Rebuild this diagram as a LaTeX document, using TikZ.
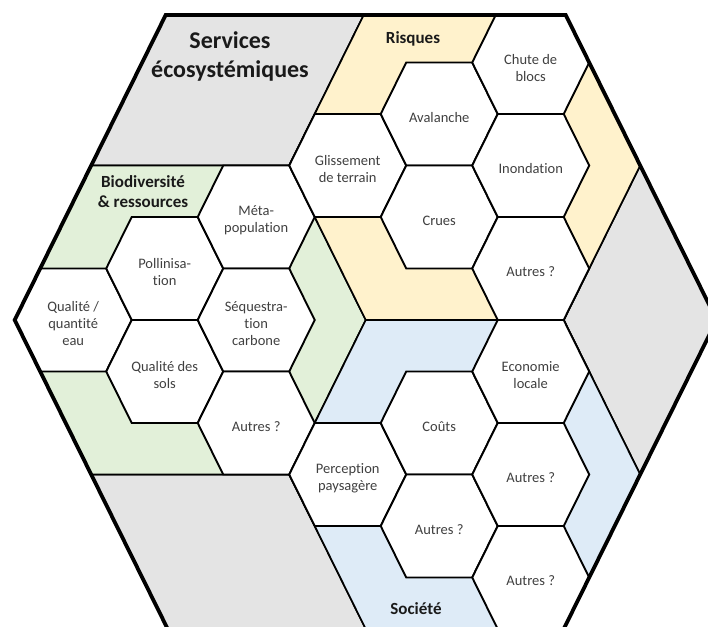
\documentclass[tikz,border=0pt]{standalone}
\usepackage{fontspec}
\setmainfont{Carlito}[RawFeature={-liga;-clig;-calt;-dlig}]
\definecolor{greyfill}{HTML}{E4E4E4}
\definecolor{yellowfill}{HTML}{FFF2CC}
\definecolor{greenfill}{HTML}{E2F0D9}
\definecolor{bluefill}{HTML}{DEEBF7}
\definecolor{txt}{HTML}{404040}
\definecolor{ttl}{HTML}{1A1A1A}
\begin{document}
\begin{tikzpicture}[x=1pt,y=-1pt,
  region/.style={draw=black,line width=1.7pt,line join=miter},
  hexline/.style={draw=black,fill=white,line width=1.9pt,line join=miter},
  hexlabel/.style={text=txt,align=center,font=\fontsize{14.5}{17}\selectfont,yshift=-3.5pt},
  grouptitle/.style={text=ttl,align=center,font=\bfseries\fontsize{17}{20}\selectfont},
  hexcell/.pic={\path[hexline] (-58.5,0) -- (-33,-51.5) -- (33,-51.5) -- (58.5,0) -- (33,51.5) -- (-33,51.5) -- cycle;}
]
\fill[white] (0,0) rectangle (708,626);
\useasboundingbox (0,0) rectangle (708,626);
\clip (0,0) rectangle (708,626);

% outer hexagon
\coordinate (L)  at (14.7,320);
\coordinate (TL) at (165.7,15);
\coordinate (TR) at (565.7,15);
\coordinate (R)  at (716.7,320);
\coordinate (BR) at (563.2,630);
\coordinate (BL) at (168.2,630);
% inner key points
\coordinate (C)  at (365.7,320);
\coordinate (Mt) at (363.7,15);
\coordinate (P1) at (289.2,165.5);
\coordinate (Q1) at (91.2,165.5);
\coordinate (P2) at (314.7,217);
\coordinate (P3) at (314.7,423);
\coordinate (P4) at (289.2,474.5);
\coordinate (Q4) at (91.2,474.5);
\coordinate (Rt) at (640.2,165.5);
\coordinate (Rb) at (640.2,474.5);
\coordinate (Rl) at (563.7,320);
\coordinate (Mb) at (366.2,630);

\begin{scope}
\clip (L) -- (TL) -- (TR) -- (R) -- (BR) -- (BL) -- cycle;
% grey rhombi
\path[region,fill=greyfill] (TL) -- (Mt) -- (P1) -- (Q1) -- cycle;
\path[region,fill=greyfill] (Rt) -- (R) -- (Rb) -- (Rl) -- cycle;
\path[region,fill=greyfill] (Q4) -- (P4) -- (Mb) -- (BL) -- cycle;
% coloured chevrons
\path[region,fill=greenfill] (Q1) -- (P1) -- (P2) -- (C) -- (P3) -- (P4) -- (Q4) -- (L) -- cycle;
\path[region,fill=yellowfill] (Mt) -- (TR) -- (Rt) -- (Rl) -- (C) -- (P2) -- (P1) -- cycle;
\path[region,fill=bluefill] (C) -- (Rl) -- (Rb) -- (BR) -- (Mb) -- (P4) -- (P3) -- cycle;

% hexagons
\pic (h01) at (73.2,320) {hexcell};
\pic (h11) at (164.7,268.5) {hexcell};
\pic (h12) at (164.7,371.5) {hexcell};
\pic (h21) at (256.2,217) {hexcell};
\pic (h22) at (256.2,320) {hexcell};
\pic (h23) at (256.2,423) {hexcell};
\pic (h31) at (347.7,165.5) {hexcell};
\pic (h32) at (347.7,474.5) {hexcell};
\pic (h41) at (439.2,114) {hexcell};
\pic (h42) at (439.2,217) {hexcell};
\pic (h43) at (439.2,423) {hexcell};
\pic (h44) at (439.2,526) {hexcell};
\pic (h51) at (530.7,62.5) {hexcell};
\pic (h52) at (530.7,165.5) {hexcell};
\pic (h53) at (530.7,268.5) {hexcell};
\pic (h54) at (530.7,371.5) {hexcell};
\pic (h55) at (530.7,474.5) {hexcell};
\pic (h56) at (530.7,577.5) {hexcell};
\end{scope}

\draw[line width=3.8pt,line join=miter] (L) -- (TL) -- (TR) -- (R) -- (BR) -- (BL) -- cycle;

% group titles
\node[text=ttl,align=center,font=\bfseries\fontsize{24}{29}\selectfont] (tserv) at (230,56) {Services\\écosystémiques};
\node[grouptitle] (tbio) at (143,192) {Biodiversité\\\& ressources};
\node[grouptitle] (trisk) at (413,39) {Risques};
\node[grouptitle] (tsoc) at (416,609) {Société};

% hexagon labels
\node[hexlabel] (l01) at (73.2,320) {Qualité /\\quantité\\eau};
\node[hexlabel] (l11) at (164.7,268.5) {Pollinisa-\\tion};
\node[hexlabel] (l12) at (164.7,371.5) {Qualité des\\sols};
\node[hexlabel] (l21) at (256.2,217) {Méta-\\population};
\node[hexlabel] (l22) at (256.2,320) {Séquestra-\\tion\\carbone};
\node[hexlabel] (l23) at (256.2,423) {Autres ?};
\node[hexlabel] (l31) at (347.7,165.5) {Glissement\\de terrain};
\node[hexlabel] (l32) at (347.7,474.5) {Perception\\paysagère};
\node[hexlabel] (l41) at (439.2,114) {Avalanche};
\node[hexlabel] (l42) at (439.2,217) {Crues};
\node[hexlabel] (l43) at (439.2,423) {Coûts};
\node[hexlabel] (l44) at (439.2,526) {Autres ?};
\node[hexlabel] (l51) at (530.7,64.5) {Chute de\\blocs};
\node[hexlabel] (l52) at (530.7,165.5) {Inondation};
\node[hexlabel] (l53) at (530.7,268.5) {Autres ?};
\node[hexlabel] (l54) at (530.7,371.5) {Economie\\locale};
\node[hexlabel] (l55) at (530.7,474.5) {Autres ?};
\node[hexlabel] (l56) at (530.7,577.5) {Autres ?};
\end{tikzpicture}
\end{document}
